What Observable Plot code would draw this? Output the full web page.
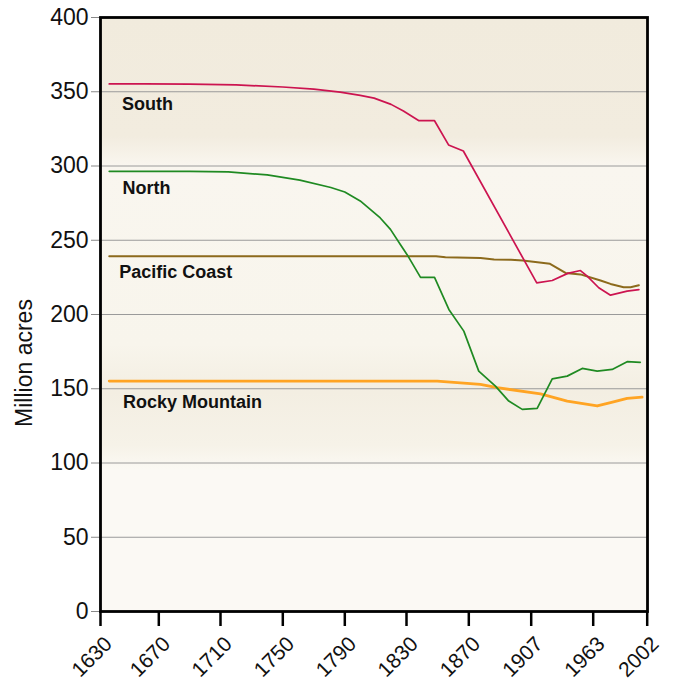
<!DOCTYPE html>
<html><head><meta charset="utf-8">
<script src="https://cdn.jsdelivr.net/npm/d3@7"></script>
<script src="https://cdn.jsdelivr.net/npm/@observablehq/plot@0.6"></script>
<style>body{margin:0;background:#fff;}</style>
</head><body><div id="chart"></div>
<script>
const tickYears = [1630,1670,1710,1750,1790,1830,1870,1907,1963,2002];
const tickLabels = ["1630","1670","1710","1750","1790","1830","1870","1907","1963","2002"];
const yTicks = [0,50,100,150,200,250,300,350,400];

const southYears  = [1636,1660,1690,1720,1750,1770,1787,1800,1809,1820,1828,1838,1848,1857,1866.5,1912,1926,1940,1951.5,1957.6,1967,1975.5,1987.5,1996];
const southValues = [355.3,355.3,355.1,354.6,353.2,351.8,349.8,347.5,345.7,341.5,337,330.5,330.5,314.2,310.1,221.3,222.9,227.7,229.6,225.8,218,213,215.7,216.8];

const northYears  = [1636,1690,1715,1740,1761,1781,1790,1800,1808.6,1813,1819.6,1826,1830.4,1839,1848,1857.2,1866.8,1875.9,1885.8,1893.7,1901.7,1912.4,1926,1939.5,1953.1,1965.9,1976.7,1987.5,1997];
const northValues = [296.4,296.4,296,294,290.5,285.5,282.5,276.5,269,265,257.3,247.1,240.3,225,225,203.4,188.8,161.9,151.8,141.7,136.1,136.8,156.7,158.5,163.7,161.9,163,168.2,167.8];

const pacificYears  = [1636,1849,1855,1877,1885,1895,1902,1924,1938,1951.5,1968.3,1975.5,1985,1990,1996];
const pacificValues = [239.3,239.3,238.6,238.1,237,236.9,236.4,234.1,228,227,222.9,220.6,218.4,218.4,219.7];

const rockyYears  = [1636,1849.7,1876.9,1886.8,1915.4,1939.5,1965.9,1975.5,1987.5,1998.3];
const rockyValues = [155.2,155.2,153,150.7,146.6,141.7,138.4,140.6,143.5,144.4];

const seriesNames = ["South","North","Pacific Coast","Rocky Mountain"];
const yAxisLabel = "Million acres";

const toRows = (name, ys, vs) => ys.map((yr, i) => ({region: name, year: yr, value: vs[i]}));
const seriesData = {
  "South": toRows("South", southYears, southValues),
  "North": toRows("North", northYears, northValues),
  "Pacific Coast": toRows("Pacific Coast", pacificYears, pacificValues),
  "Rocky Mountain": toRows("Rocky Mountain", rockyYears, rockyValues)
};

const colors = {"South":"#cc1450","North":"#1f8a22","Pacific Coast":"#8c6a1c","Rocky Mountain":"#ffa423"};
const widths = {"South":1.7,"North":1.7,"Pacific Coast":2,"Rocky Mountain":2.8};
const labelOffsets = {"South":[12.7,20.6],"North":[13.3,16.7],"Pacific Coast":[10,15.8],"Rocky Mountain":[13.7,20.8]};

const font = "'Liberation Sans', Arial, Helvetica, sans-serif";

const marks = [
  Plot.frame({fill: "url(#bgGrad)"}),
  Plot.ruleY([50,100,150,200,250,300,350], {y: d => d, stroke: "#9a9a9a", strokeWidth: 1})
];
for (const name of ["Rocky Mountain","Pacific Coast","North","South"]) {
  marks.push(Plot.line(seriesData[name], {x: "year", y: "value", stroke: colors[name], strokeWidth: widths[name]}));
}
for (const name of seriesNames) {
  const first = seriesData[name][0];
  marks.push(Plot.text([first], {x: "year", y: "value", text: () => name, textAnchor: "start", lineAnchor: "middle",
    dx: labelOffsets[name][0], dy: labelOffsets[name][1], fontWeight: "bold", fontSize: 18, fill: "#111"}));
}
marks.push(
  Plot.axisY({ticks: yTicks, tickSize: 9, tickPadding: 3, fontSize: 23, label: null, stroke: "#888", fill: "#111"}),
  Plot.axisX({ticks: tickYears, tickFormat: () => "", tickSize: 15, label: null, stroke: "#000", strokeWidth: 2.5}),
  Plot.axisX({ticks: tickYears, tickFormat: d => tickLabels[tickYears.indexOf(d)], tickSize: 0, tickPadding: 17,
    tickRotate: -45, fontSize: 21, dx: 8, dy: 12, label: null, fill: "#111"}),
  Plot.frame({stroke: "#000", strokeWidth: 2.8})
);

const chart = Plot.plot({
  width: 679,
  height: 685,
  marginLeft: 100,
  marginRight: 32,
  marginTop: 17,
  marginBottom: 74,
  style: {fontFamily: font, background: "#fff", color: "#111"},
  x: {type: "linear", domain: tickYears, range: [100,158.3,220,282.3,344.3,406,468.3,530.7,592.7,646.7]},
  y: {domain: [0, 400]},
  marks
});

const svg = d3.select(chart);
const defs = svg.insert("defs", ":first-child");
const grad = defs.append("linearGradient").attr("id", "bgGrad").attr("x1", 0).attr("y1", 0).attr("x2", 0).attr("y2", 1);
[["0", "#f1ebdd"], ["0.2", "#f2ecdf"], ["0.25", "#f9f6ef"], ["0.55", "#f8f5ec"], ["0.63", "#f3eee2"], ["0.72", "#f6f2e8"], ["0.76", "#fbf9f4"], ["1", "#fbf9f4"]]
  .forEach(([o, c]) => grad.append("stop").attr("offset", o).attr("stop-color", c));

svg.append("text")
  .attr("transform", "translate(32,363) rotate(-90)")
  .attr("text-anchor", "middle")
  .attr("font-size", 23)
  .attr("fill", "#111")
  .text(yAxisLabel);

document.getElementById("chart").appendChild(chart);
</script>
</body></html>
